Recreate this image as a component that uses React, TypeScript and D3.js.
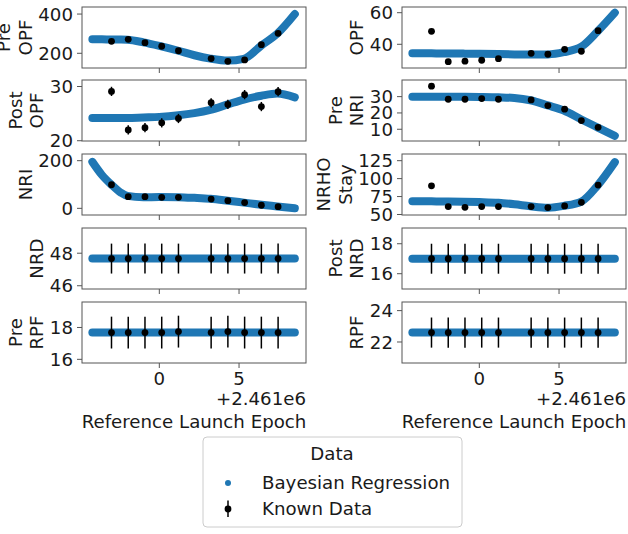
import React from 'react';
import * as d3 from 'd3';

// x positions (days relative to 2.461e6)
const xKnown = [-3.0, -1.95, -0.9, 0.15, 1.2, 3.25, 4.3, 5.35, 6.4, 7.45];
const xReg = [-4.2, -3.6, -3, -2.4, -2, -1, 0, 1.2, 2.2, 3.2, 4.3, 5.3, 6.4, 7.4, 8.5];
const xTicks = [0, 5];

// left column
const preOpfReg = [271, 271, 270, 270, 269, 256, 238, 213, 190, 173, 163, 172, 240, 300, 400];
const preOpfKnown = [261, 271, 254, 236, 213, 173, 159, 166, 244, 302];
const postOpfReg = [24.2, 24.2, 24.2, 24.2, 24.2, 24.3, 24.4, 24.7, 25.1, 25.7, 26.7, 27.6, 28.3, 28.7, 28.0];
const postOpfKnown = [29.1, 22.0, 22.4, 23.3, 24.1, 27.0, 26.7, 28.5, 26.3, 29.05];
const postOpfErr = [0.85, 0.85, 0.85, 0.85, 0.85, 0.85, 0.85, 0.85, 0.85, 0.85];
const nriReg = [195, 140, 99, 65, 52, 46, 48, 47, 44, 40, 32, 24, 15, 8, 0];
const nriKnown = [99, 49, 49, 46, 46, 39, 32, 24, 13, 7];
const nrdReg = [47.67, 47.67, 47.67, 47.67, 47.67, 47.67, 47.67, 47.67, 47.67, 47.67, 47.67, 47.67, 47.67, 47.67, 47.67];
const nrdKnown = [47.67, 47.67, 47.67, 47.67, 47.67, 47.67, 47.67, 47.67, 47.67, 47.67];
const nrdErr = [0.92, 0.92, 0.92, 0.92, 0.92, 0.92, 0.92, 0.92, 0.92, 0.92];
const preRpfReg = [17.68, 17.68, 17.68, 17.68, 17.68, 17.68, 17.68, 17.68, 17.68, 17.68, 17.68, 17.68, 17.68, 17.68, 17.68];
const preRpfKnown = [17.68, 17.68, 17.68, 17.68, 17.74, 17.68, 17.74, 17.68, 17.68, 17.68];
const preRpfErr = [1.0, 1.0, 1.0, 1.0, 1.0, 1.0, 1.0, 1.0, 1.0, 1.0];

// right column
const opfReg = [34.3, 34.3, 34.3, 34.2, 34.2, 34.1, 34.0, 33.8, 33.6, 33.5, 33.6, 35.0, 38.5, 48, 60];
const opfKnown = [48.2, 29.0, 29.3, 29.9, 30.9, 34.3, 33.7, 36.8, 35.6, 48.6];
const preNriReg = [30, 30, 30, 30, 30, 29.9, 29.8, 29.6, 29.2, 27.8, 24.6, 21.5, 16.0, 11.2, 6];
const preNriKnown = [36.4, 28.4, 28.4, 28.8, 28.4, 28.0, 24.5, 22.3, 15.3, 11.2];
const nrhoReg = [68.4, 68.4, 68.3, 68.2, 68.1, 67.8, 67.3, 66.3, 64.2, 61.5, 59.5, 62, 68, 90, 123];
const nrhoKnown = [90, 61, 60, 61, 61, 61, 59.7, 62, 67, 91];
const postNrdReg = [17, 17, 17, 17, 17, 17, 17, 17, 17, 17, 17, 17, 17, 17, 17];
const postNrdKnown = [17, 17, 17, 17, 17, 17, 17, 17, 17, 17];
const postNrdErr = [1.0, 1.0, 1.0, 1.0, 1.0, 1.0, 1.0, 1.0, 1.0, 1.0];
const rpfReg = [22.6, 22.6, 22.6, 22.6, 22.6, 22.6, 22.6, 22.6, 22.6, 22.6, 22.6, 22.6, 22.6, 22.6, 22.6];
const rpfKnown = [22.6, 22.6, 22.6, 22.6, 22.6, 22.6, 22.6, 22.6, 22.6, 22.6];
const rpfErr = [0.96, 0.96, 0.96, 0.96, 0.96, 0.96, 0.96, 0.96, 0.96, 0.96];

const noErr = [0, 0, 0, 0, 0, 0, 0, 0, 0, 0];

interface PanelDef {
  label: string[];
  reg: number[];
  known: number[];
  err: number[];
  domain: [number, number];
  ticks: number[];
}

const leftPanels: PanelDef[] = [
  { label: ['Pre', 'OPF'], reg: preOpfReg, known: preOpfKnown, err: noErr, domain: [125, 436], ticks: [200, 400] },
  { label: ['Post', 'OPF'], reg: postOpfReg, known: postOpfKnown, err: postOpfErr, domain: [19.95, 31.2], ticks: [20, 30] },
  { label: ['NRI'], reg: nriReg, known: nriKnown, err: noErr, domain: [-28, 228], ticks: [0, 200] },
  { label: ['NRD'], reg: nrdReg, known: nrdKnown, err: nrdErr, domain: [45.8, 49.55], ticks: [46, 48] },
  { label: ['Pre', 'RPF'], reg: preRpfReg, known: preRpfKnown, err: preRpfErr, domain: [15.77, 19.6], ticks: [16, 18] },
];

const rightPanels: PanelDef[] = [
  { label: ['OPF'], reg: opfReg, known: opfKnown, err: noErr, domain: [25, 63.6], ticks: [40, 60] },
  { label: ['Pre', 'NRI'], reg: preNriReg, known: preNriKnown, err: noErr, domain: [2.8, 40.2], ticks: [10, 20, 30] },
  { label: ['NRHO', 'Stay'], reg: nrhoReg, known: nrhoKnown, err: noErr, domain: [49.3, 134.3], ticks: [50, 75, 100, 125] },
  { label: ['Post', 'NRD'], reg: postNrdReg, known: postNrdKnown, err: postNrdErr, domain: [14.98, 19.05], ticks: [16, 18] },
  { label: ['RPF'], reg: rpfReg, known: rpfKnown, err: rpfErr, domain: [20.66, 24.55], ticks: [22, 24] },
];

const W = 628;
const H = 534;
const FONT = '"DejaVu Sans", sans-serif';
const FS = 18.2;
const BLUE = '#1f77b4';
const SPINE = '#555';
const TEXT = '#1a1a1a';
const colX = [82, 402];
const PW = 224;
const rowY = [7, 80, 154, 228, 302];
const PH = 61;
const xDomain: [number, number] = [-4.85, 9.2];

const Panel: React.FC<{ p: PanelDef; x0: number; y0: number; bottom: boolean }> = ({ p, x0, y0, bottom }) => {
  const x = d3.scaleLinear().domain(xDomain).range([x0, x0 + PW]);
  const y = d3.scaleLinear().domain(p.domain).range([y0 + PH, y0]);
  const line = d3
    .line<number>()
    .x((_, i) => x(xReg[i]))
    .y((d) => y(d))
    .curve(d3.curveMonotoneX);

  // ylabel sits left of the widest tick label
  const maxChars = d3.max(p.ticks, (t) => String(t).length) as number;
  const tickLeft = x0 - 9.5 - maxChars * 0.636 * FS;
  const baseX = tickLeft - 6;
  const cy = y0 + PH / 2;

  return (
    <g>
      <rect x={x0} y={y0} width={PW} height={PH} fill="none" stroke={SPINE} strokeWidth={1} />
      {p.ticks.map((t) => (
        <g key={t}>
          <line x1={x0} x2={x0 - 5} y1={y(t)} y2={y(t)} stroke={SPINE} strokeWidth={1} />
          <text x={x0 - 9} y={y(t)} dy="0.36em" textAnchor="end" fontSize={FS} fill={TEXT}>
            {t}
          </text>
        </g>
      ))}
      {xTicks.map((t) => (
        <g key={t}>
          <line x1={x(t)} x2={x(t)} y1={y0 + PH} y2={y0 + PH + 5} stroke={SPINE} strokeWidth={1} />
          {bottom && (
            <text x={x(t)} y={384.5} textAnchor="middle" fontSize={FS} fill={TEXT}>
              {t}
            </text>
          )}
        </g>
      ))}
      {p.label.map((l, i) => (
        <text
          key={l}
          transform={`translate(${baseX - (p.label.length - 1 - i) * 21.5},${cy}) rotate(-90)`}
          textAnchor="middle"
          fontSize={FS}
          fill={TEXT}
        >
          {l}
        </text>
      ))}
      <path d={line(p.reg) as string} fill="none" stroke={BLUE} strokeWidth={8} strokeLinecap="round" strokeLinejoin="round" />
      {p.known.map((v, i) => (
        <g key={i}>
          {p.err[i] > 0 && (
            <line
              x1={x(xKnown[i])}
              x2={x(xKnown[i])}
              y1={y(v - p.err[i])}
              y2={y(v + p.err[i])}
              stroke="#000"
              strokeWidth={1.5}
            />
          )}
          <circle cx={x(xKnown[i])} cy={y(v)} r={3.4} fill="#000" />
        </g>
      ))}
      {bottom && (
        <g>
          <text x={x0 + PW} y={405} textAnchor="end" fontSize={FS} fill={TEXT}>
            +2.461e6
          </text>
          <text x={x0 + PW / 2} y={427.5} textAnchor="middle" fontSize={FS} fill={TEXT}>
            Reference Launch Epoch
          </text>
        </g>
      )}
    </g>
  );
};

export default function App() {
  return (
    <svg
      width={W}
      height={H}
      style={{ position: 'absolute', left: 0, top: 0, background: '#fff' }}
      fontFamily={FONT}
    >
      {leftPanels.map((p, i) => (
        <Panel key={'l' + i} p={p} x0={colX[0]} y0={rowY[i]} bottom={i === 4} />
      ))}
      {rightPanels.map((p, i) => (
        <Panel key={'r' + i} p={p} x0={colX[1]} y0={rowY[i]} bottom={i === 4} />
      ))}

      {/* legend */}
      <g>
        <rect x={203} y={437} width={259} height={90} rx={4} fill="#fff" stroke="#ccc" strokeWidth={1} />
        <text x={332} y={459.5} textAnchor="middle" fontSize={FS} fill={TEXT}>
          Data
        </text>
        <circle cx={228} cy={483} r={3} fill={BLUE} />
        <text x={262} y={488.5} fontSize={FS} fill={TEXT}>
          Bayesian Regression
        </text>
        <line x1={228} x2={228} y1={500.5} y2={517} stroke="#000" strokeWidth={1.5} />
        <circle cx={228} cy={509} r={3.4} fill="#000" />
        <text x={262} y={515} fontSize={FS} fill={TEXT}>
          Known Data
        </text>
      </g>
    </svg>
  );
}
